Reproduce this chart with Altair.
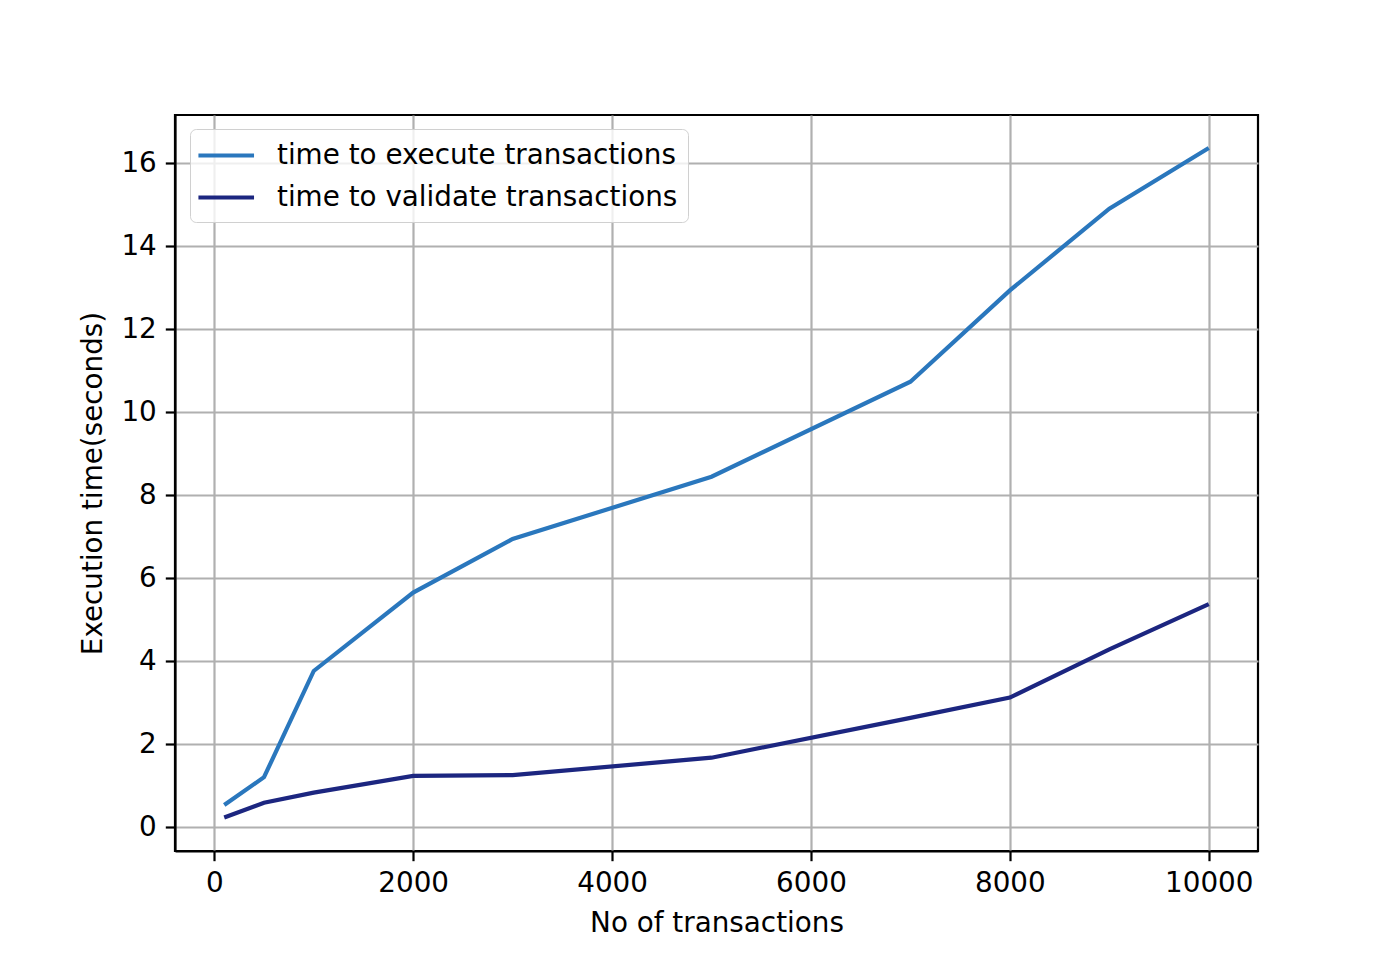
import altair as alt
import pandas as pd

transactions = [100, 500, 1000, 2000, 3000, 5000, 7000, 8000, 9000, 10000]
execute_time = [0.53, 1.20, 3.76, 5.65, 6.94, 8.44, 10.73, 12.93, 14.90, 16.36]
validate_time = [0.23, 0.585, 0.83, 1.23, 1.25, 1.67, 2.63, 3.12, 4.28, 5.37]
series_names = ["time to execute transactions", "time to validate transactions"]
series_colors = ["#2a77bd", "#1c2680"]
x_ticks = [0, 2000, 4000, 6000, 8000, 10000]
y_ticks = [0, 2, 4, 6, 8, 10, 12, 14, 16]

rows = []
for name, vals in zip(series_names, [execute_time, validate_time]):
    for x, y in zip(transactions, vals):
        rows.append({"n": x, "t": y, "series": name})
df = pd.DataFrame(rows)

FONT = "DejaVu Sans"
FS = 27.8

chart = alt.Chart(df).mark_line(strokeWidth=4.2, strokeCap="butt").encode(
    x=alt.X("n:Q", title="No of transactions",
            scale=alt.Scale(domain=[-395, 10495], nice=False, zero=False),
            axis=alt.Axis(values=x_ticks, format="d", titlePadding=12, labelPadding=9)),
    y=alt.Y("t:Q", title="Execution time(seconds)",
            scale=alt.Scale(domain=[-0.578, 17.157], nice=False, zero=False),
            axis=alt.Axis(values=y_ticks, format="d", titlePadding=13, labelPadding=9)),
    color=alt.Color("series:N", title=None,
                    scale=alt.Scale(domain=series_names, range=series_colors),
                    legend=alt.Legend(orient="none", legendX=15, legendY=14,
                                      symbolType="M-1.3,0H2.7", symbolSize=773,
                                      symbolStrokeWidth=4.2, labelFontSize=FS,
                                      labelFont=FONT, labelColor="black",
                                      labelOffset=44, rowPadding=11,
                                      padding=10, strokeColor="#d0d0d0",
                                      cornerRadius=6, fillColor="rgba(255,255,255,0.8)",
                                      labelLimit=1000)),
    order="n:Q",
).properties(
    width=1083, height=736,
    autosize=alt.AutoSizeParams(type="none"),
    padding={"left": 167, "top": 107, "right": 132, "bottom": 97},
).configure_view(
    stroke="black", strokeWidth=2.2
).configure_axis(
    domainColor="black", domainWidth=2.2,
    tickColor="black", tickWidth=2.2, tickSize=9.7,
    gridColor="#b0b0b0", gridWidth=2.2,
    labelFont=FONT, labelFontSize=FS, labelColor="black",
    titleFont=FONT, titleFontSize=FS, titleFontWeight="normal", titleColor="black",
)

chart.save("out.html", embed_options={"renderer": "svg", "actions": False})
